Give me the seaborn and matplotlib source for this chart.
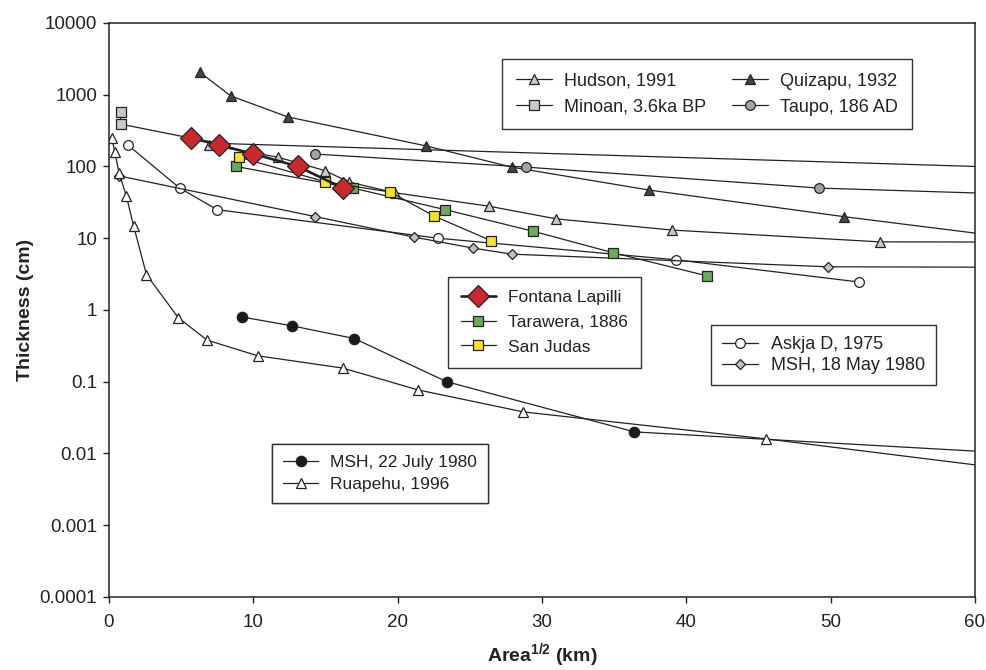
import numpy as np
import pandas as pd
import matplotlib
matplotlib.use("Agg")
import matplotlib.pyplot as plt
import seaborn as sns

# Data: area^1/2 (km) vs thickness (cm)
# (points past x=60 are off the plot, only their line segments show)
hudson_x = [6.9, 11.7, 15.0, 16.6, 19.8, 26.3, 31.0, 39.0, 53.4, 70]
hudson_y = [200, 135, 87, 61, 43, 28, 18.6, 13, 8.9, 8.8]

quizapu_x = [6.3, 8.45, 12.4, 22.0, 27.9, 37.4, 50.9, 70]
quizapu_y = [2050, 960, 490, 193, 98, 47, 20, 6.6]

minoan_x = [0.8, 0.8, 7.5, 70]
minoan_y = [580, 390, 210, 87]

taupo_x = [14.3, 28.9, 49.2, 70]
taupo_y = [149, 98, 50, 37]

fontana_x = [5.7, 7.6, 10.0, 13.1, 16.2]
fontana_y = [250, 200, 150, 100, 50]

tarawera_x = [8.8, 16.9, 23.3, 29.4, 34.9, 41.4]
tarawera_y = [100, 50, 25, 12.5, 6.3, 3.0]

sanjudas_x = [9.0, 15.0, 19.5, 22.5, 26.5]
sanjudas_y = [135, 61, 44, 20.5, 9.2]

askja_x = [1.3, 4.9, 7.5, 22.8, 39.3, 52.0]
askja_y = [200, 50, 25, 10, 5, 2.45]

msh_may_x = [0.7, 14.3, 21.1, 25.2, 27.9, 49.8, 70]
msh_may_y = [74, 20, 10.4, 7.3, 6.0, 4.0, 3.9]

msh_jul_x = [9.2, 12.7, 17.0, 23.4, 36.4, 70]
msh_jul_y = [0.8, 0.6, 0.4, 0.1, 0.02, 0.0083]

ruapehu_x = [0.2, 0.4, 0.7, 1.2, 1.7, 2.6, 4.8, 6.8, 10.3, 16.2, 21.4, 28.7, 45.5, 70]
ruapehu_y = [250, 160, 81, 39, 15, 3.1, 0.78, 0.38, 0.23, 0.155, 0.077, 0.038, 0.016, 0.0039]

y_ticks = [1e-4, 1e-3, 1e-2, 1e-1, 1, 10, 100, 1000, 10000]
y_tick_labels = ["0.0001", "0.001", "0.01", "0.1", "1", "10", "100", "1000", "10000"]
x_ticks = [0, 10, 20, 30, 40, 50, 60]

sns.set_theme(style="ticks")
plt.rcParams["font.family"] = ["Liberation Sans", "DejaVu Sans"]
plt.rcParams["mathtext.fontset"] = "custom"
plt.rcParams["mathtext.bf"] = "Liberation Sans:bold"
plt.rcParams["mathtext.rm"] = "Liberation Sans"

ink = "#222222"

# name, x, y, marker, size, face, line width, markevery
series = [
    ("Hudson, 1991", hudson_x, hudson_y, "^", 7.5, "#c8c8c8", 0.9, None),
    ("Minoan, 3.6ka BP", minoan_x, minoan_y, "s", 6.8, "#c8c8c8", 0.9, [0, 1]),
    ("Quizapu, 1932", quizapu_x, quizapu_y, "^", 7.5, "#444444", 0.9, None),
    ("Taupo, 186 AD", taupo_x, taupo_y, "o", 7.0, "#a3a3a3", 0.9, None),
    ("Askja D, 1975", askja_x, askja_y, "o", 7.0, "white", 0.9, None),
    ("MSH, 18 May 1980", msh_may_x, msh_may_y, "D", 5.0, "#c0c0c0", 0.9, None),
    ("MSH, 22 July 1980", msh_jul_x, msh_jul_y, "o", 7.5, "#1a1a1a", 0.9, None),
    ("Ruapehu, 1996", ruapehu_x, ruapehu_y, "^", 7.0, "white", 0.9, None),
    ("Tarawera, 1886", tarawera_x, tarawera_y, "s", 6.8, "#6aab5c", 0.9, None),
    ("San Judas", sanjudas_x, sanjudas_y, "s", 6.8, "#f7e22b", 0.9, None),
    ("Fontana Lapilli", fontana_x, fontana_y, "D", 11.5, "#c8282e", 1.9, None),
]

fig, ax = plt.subplots(figsize=(9.87, 6.70), dpi=100)
fig.subplots_adjust(left=0.1104, right=0.9878, top=0.9657, bottom=0.109)

handles = {}
for name, xs, ys, mk, ms, face, lw, every in series:
    d = pd.DataFrame({"area": xs, "thick": ys})
    sns.lineplot(data=d, x="area", y="thick", estimator=None, sort=False, ax=ax,
                 color=ink, linewidth=lw, marker=mk, markersize=ms,
                 markerfacecolor=face, markeredgecolor=ink, markeredgewidth=0.9,
                 markevery=every, legend=False)
    handles[name] = ax.lines[-1]

ax.set_yscale("log")
ax.set_xlim(0, 60)
ax.set_ylim(1e-4, 1e4)
ax.set_yticks(y_ticks)
ax.set_yticklabels(y_tick_labels)
ax.yaxis.set_minor_locator(matplotlib.ticker.NullLocator())
ax.set_xticks(x_ticks)
ax.set_xticklabels([str(v) for v in x_ticks])

ax.tick_params(direction="out", length=4.5, width=1.0, colors=ink, labelsize=13.5)
ax.tick_params(axis="y", pad=4)
ax.tick_params(axis="x", pad=8)
for sp in ax.spines.values():
    sp.set_color(ink)
    sp.set_linewidth(1.1)

ax.set_xlabel(r"$\mathbf{Area^{1/2}}$ (km)", fontsize=14, fontweight="bold", color=ink, labelpad=7)
ax.set_ylabel("Thickness (cm)", fontsize=14, fontweight="bold", color=ink, labelpad=4)


def add_legend(names, x0, y0, ncol=1, fs=12.5, spacing=0.55, pad=0.75):
    leg = ax.legend([handles[n] for n in names], names, loc="upper left",
                    bbox_to_anchor=(x0 / 987, 1 - y0 / 670), bbox_transform=fig.transFigure,
                    borderaxespad=0, ncol=ncol, fontsize=fs, frameon=True, fancybox=False,
                    edgecolor="#333333", framealpha=1, handlelength=2.0, handletextpad=0.7,
                    labelspacing=spacing, columnspacing=1.4, borderpad=pad)
    leg.get_frame().set_linewidth(1.0)
    for t in leg.get_texts():
        t.set_color(ink)
    ax.add_artist(leg)
    return leg


add_legend(["Hudson, 1991", "Minoan, 3.6ka BP", "Quizapu, 1932", "Taupo, 186 AD"], 502, 59,
           ncol=2, fs=13, spacing=0.5)
add_legend(["Fontana Lapilli", "Tarawera, 1886", "San Judas"], 448, 277)
add_legend(["Askja D, 1975", "MSH, 18 May 1980"], 711, 325, fs=13, spacing=0.25, pad=0.6)
add_legend(["MSH, 22 July 1980", "Ruapehu, 1996"], 272, 444, spacing=0.35, pad=0.65)

plt.savefig("out.png", dpi=100)
